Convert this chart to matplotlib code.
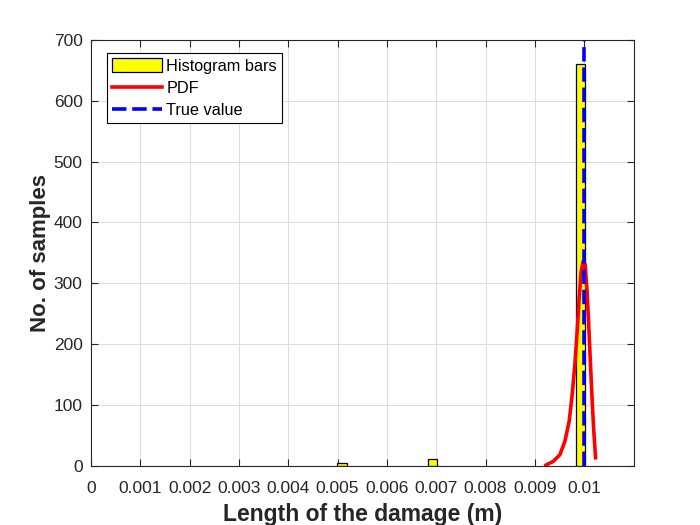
import matplotlib
matplotlib.use("Agg")
import matplotlib.pyplot as plt

# Histogram bars (bin centers, counts)
bar_centers = [0.00509, 0.00692, 0.00993]
bar_counts = [5, 11, 660]
bar_width = 0.000185

# PDF curve
pdf_x = [0.009224, 0.009372, 0.009507, 0.009609, 0.009696, 0.009757, 0.009811,
         0.009858, 0.009899, 0.009939, 0.009980, 0.010020, 0.010055, 0.010089,
         0.010122, 0.010156, 0.010191, 0.010231]
pdf_y = [1, 7, 18, 40, 73, 117, 166, 221, 276, 319, 336, 331, 292, 237,
         177, 117, 62, 13]

true_value = 0.01
xticks = [0, 0.001, 0.002, 0.003, 0.004, 0.005, 0.006, 0.007, 0.008, 0.009, 0.01]
xtick_labels = ['0', '0.001', '0.002', '0.003', '0.004', '0.005', '0.006',
                '0.007', '0.008', '0.009', '0.01']
yticks = [0, 100, 200, 300, 400, 500, 600, 700]

plt.rcParams['font.family'] = ['Liberation Sans', 'DejaVu Sans']

fig = plt.figure(figsize=(7, 5.25), dpi=100)
ax = fig.add_axes([0.13, 0.113, 0.775, 0.811])

h_bar = ax.bar(bar_centers, bar_counts, width=bar_width, color='#ffff00',
               edgecolor='black', linewidth=0.9, label='Histogram bars', zorder=2)
h_pdf, = ax.plot(pdf_x, pdf_y, color='red', linewidth=2.6, label='PDF', zorder=3)
h_true, = ax.plot([true_value, true_value], [0, 700], color='blue', linewidth=2.6,
                  linestyle=(0, (4, 1.6)), label='True value', zorder=4)

ax.set_xlim(0, 0.011)
ax.set_ylim(0, 700)
ax.set_xticks(xticks)
ax.set_xticklabels(xtick_labels)
ax.set_yticks(yticks)
ax.grid(True, color='#dcdcdc', linewidth=0.7, zorder=0)
ax.set_axisbelow(True)
ax.tick_params(direction='in', top=True, right=True, labelsize=12.5,
               colors='#262626', length=5, width=0.8)
ax.tick_params(axis='x', pad=11)
ax.tick_params(axis='y', pad=6)
for s in ax.spines.values():
    s.set_color('#262626')
    s.set_linewidth(0.8)

ax.set_xlabel('Length of the damage (m)', fontsize=16.5, fontweight='bold',
              color='#262626', labelpad=5)
ax.set_ylabel('No. of samples', fontsize=16, fontweight='bold', color='#262626',
              labelpad=2)

leg = ax.legend([h_bar, h_pdf, h_true], ['Histogram bars', 'PDF', 'True value'],
                loc='upper left', bbox_to_anchor=(0.0295, 0.969), fontsize=11.7,
                fancybox=False, framealpha=1, edgecolor='black',
                borderpad=0.3, labelspacing=0.42, handlelength=3.1,
                handleheight=0.95, handletextpad=0.25, borderaxespad=0)
leg.get_frame().set_linewidth(0.8)

fig.savefig('out.png', dpi=100)
